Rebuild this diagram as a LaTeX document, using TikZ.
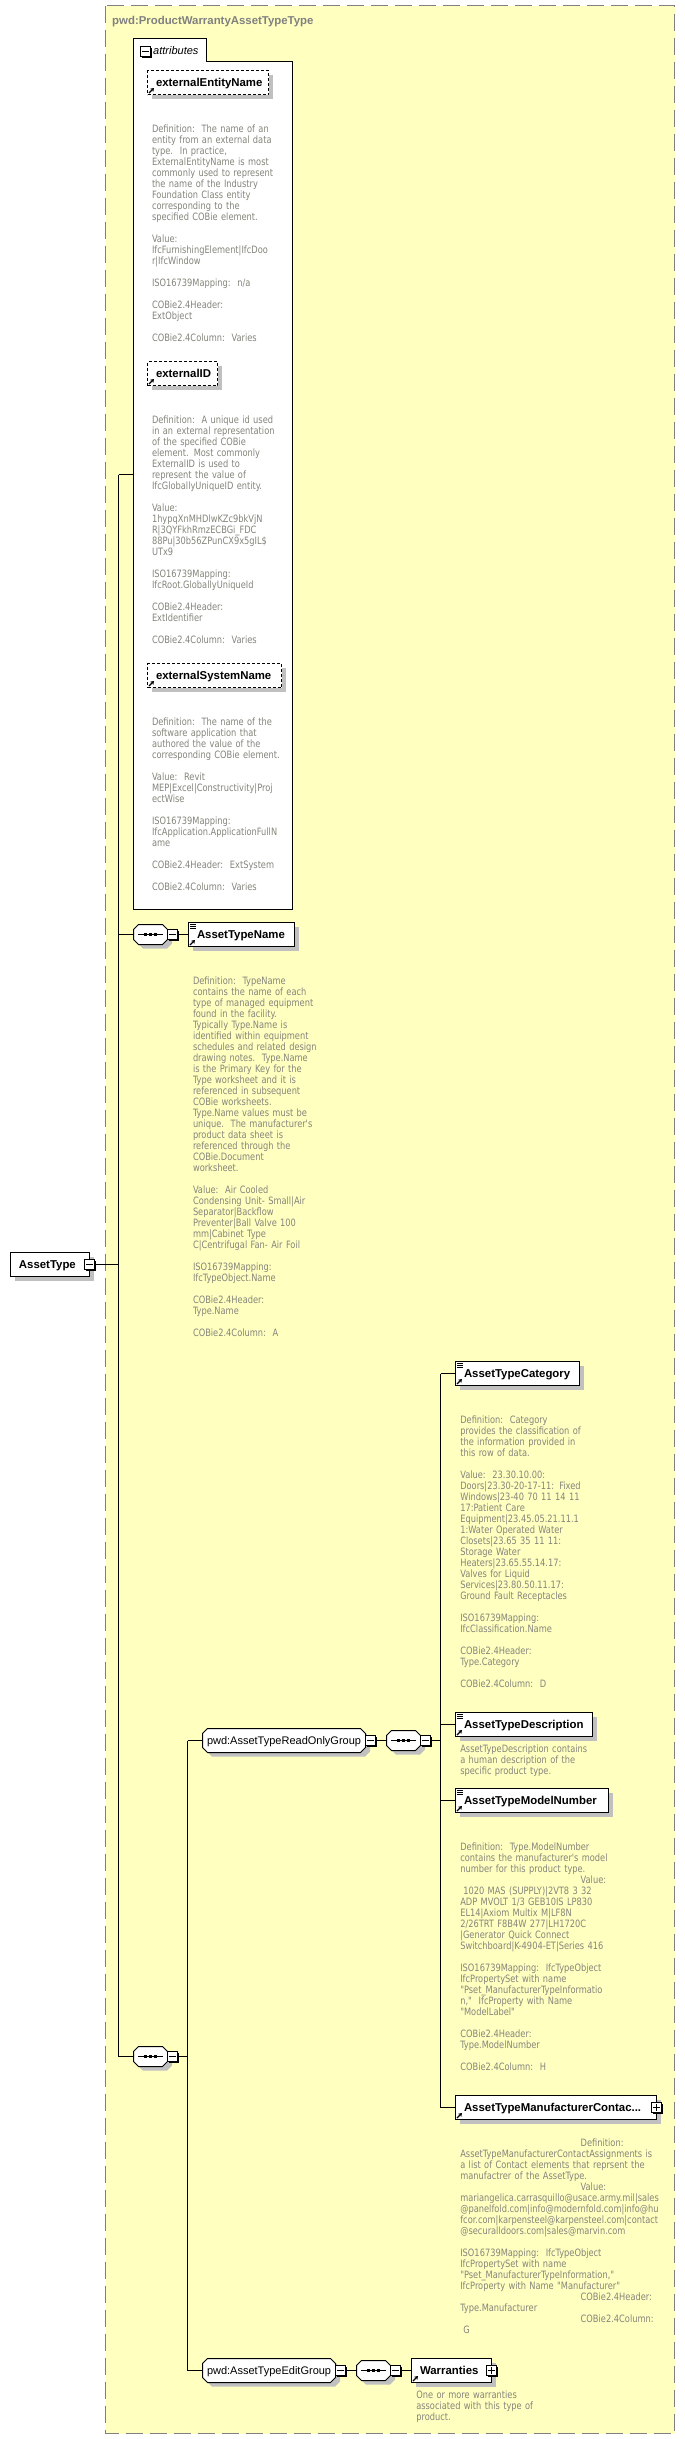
\documentclass[tikz,border=0pt]{standalone}
\usepackage{fontspec}
\setmainfont{Liberation Sans}
\newfontfamily\docfont[FakeStretch=0.91]{DejaVu Sans Condensed}
\usetikzlibrary{shadows,arrows.meta}
\definecolor{paneyellow}{HTML}{FFFFC0}
\definecolor{paneline}{HTML}{808080}
\definecolor{shadowgray}{HTML}{C0C0C0}
\definecolor{doctext}{HTML}{85857C}
\tikzset{
  x=1pt,y=-1pt,
  conn/.style={draw=black,line width=1pt},
  shade4/.style={general shadow={shadow xshift=4pt,shadow yshift=-4pt,fill=shadowgray}},
  boxlabel/.style={text height=11pt,text depth=3pt,align=left,text=black},
  elembox/.style={rectangle,draw=black,fill=white,line width=1pt,outer sep=0pt,anchor=west,
    minimum height=24pt,inner xsep=8.5pt,inner ysep=0pt,shade4,boxlabel,
    font=\fontsize{11.4}{13}\selectfont\bfseries},
  attrbox/.style={elembox,dash pattern=on 3pt off 2pt},
  groupbox/.style={rectangle,outer sep=0pt,anchor=west,minimum height=24pt,
    inner xsep=4.5pt,inner ysep=0pt,boxlabel,font=\fontsize{11}{13}\selectfont},
  seqbox/.style={rectangle,outer sep=0pt,anchor=west,minimum width=34pt,minimum height=20pt,inner sep=0pt},
  octfill/.style={draw=black,fill=white,line width=1pt,line join=miter},
  expbox/.style={rectangle,draw=black,fill=white,line width=1pt,outer sep=0pt,
    minimum width=10pt,minimum height=10pt,inner sep=0pt,
    general shadow={shadow xshift=1.2pt,shadow yshift=-1.2pt,fill=black}},
  docstyle/.style={anchor=north west,inner sep=0pt,outer sep=0pt,align=left,text=doctext,text width=300pt,
    font=\docfont\fontsize{10.1}{11}\selectfont},
  pane/.style={draw=paneline,fill=paneyellow,line width=1pt,dash pattern=on 17pt off 7pt},
}
\newcommand\gap{\\[11pt]}
\newcommand\docnode[4]{\node[docstyle] (#1) at (#2,#3) {\rule{0pt}{9pt}#4};}
\newcommand\elemnode[6][elembox]{\node[#1,text width=#5pt-17pt,minimum width=#5pt] (#2) at (#3,#4) {#6};}
\newcommand\markarrow[1]{\draw[line width=1.3pt,-{Stealth[length=3.5pt,width=4.5pt]}] ([shift={(1.5,-1.5)}]#1.south west) -- ([shift={(6.5,-6.5)}]#1.south west);}
\newcommand\marklines[1]{\foreach \k in {1.5,3.5,5.5}{\draw[line width=.9pt] ([shift={(1.5,\k)}]#1.north west) -- ([shift={(7,\k)}]#1.north west);}}
% octagon outline: x, y centre, width, half height, shadow dx, dy
\newcommand\octpath[4]{(#1+5,#2-#4) -- (#1+#3-5,#2-#4) -- (#1+#3,#2-#4+5) -- (#1+#3,#2+#4-5) -- (#1+#3-5,#2+#4) -- (#1+5,#2+#4) -- (#1,#2+#4-5) -- (#1,#2-#4+5) -- cycle}
\newcommand\octagon[4]{\fill[shadowgray] \octpath{#1+4.5}{#2+4}{#3}{#4};\path[octfill] \octpath{#1}{#2}{#3}{#4};}
\newcommand\seqnode[3]{\octagon{#2}{#3}{34}{10}\node[seqbox] (#1) at (#2,#3) {};
  \draw[line width=1pt] ([xshift=-12.5pt]#1.center) -- ([xshift=12.5pt]#1.center);
  \foreach \k in {-5,0,5}{\fill ([shift={(\k-1.3,-1.3)}]#1.center) rectangle ([shift={(\k+1.3,1.3)}]#1.center);}}
\newcommand\groupnode[5]{\octagon{#2}{#3}{#4}{12}\node[groupbox,text width=#4pt-9pt,minimum width=#4pt] (#1) at (#2,#3) {#5};}
\newcommand\minusmark[1]{\draw[line width=1pt] ([xshift=-3.5pt]#1.center) -- ([xshift=3.5pt]#1.center);}
\newcommand\plusmark[1]{\minusmark{#1}\draw[line width=1pt] ([yshift=-3.5pt]#1.center) -- ([yshift=3.5pt]#1.center);}
\newcommand\expafter[2]{\node[expbox,anchor=west] (#1) at (#2.east) {};\minusmark{#1}}
\begin{document}
\begin{tikzpicture}
\useasboundingbox (0,0) rectangle (685,2439);
\fill[white] (0,0) rectangle (685,2439);
\draw[pane] (105.5,5.5) rectangle (674.5,2433.5);
\node[anchor=base west,inner sep=0pt,text=paneline,font=\fontsize{11.4}{13}\selectfont\bfseries] (panetitle) at (112,24) {pwd:ProductWarrantyAssetTypeType};

% attributes container
\draw[fill=white,line width=1pt] (133.5,38.5) -- (206.5,38.5) -- (206.5,61.5) -- (292.5,61.5) -- (292.5,909.5) -- (133.5,909.5) -- cycle;
\coordinate (attrsw) at (133.5,474.5);
\node[expbox,anchor=north west] (attrexp) at (140.5,46.5) {};\minusmark{attrexp}
\node[anchor=base west,inner sep=0pt,font=\fontsize{11}{13}\selectfont\itshape] (attrlabel) at (153,54.5) {attributes};

\elemnode[attrbox]{extEntity}{147.5}{82.5}{121}{externalEntityName}\markarrow{extEntity}
\docnode{docEntity}{152}{123.7}{Definition:~~The name of an\\entity from an external data\\type.~~In practice,\\ExternalEntityName is most\\commonly used to represent\\the name of the Industry\\Foundation Class entity\\corresponding to the\\specified COBie element.\gap Value:\\IfcFurnishingElement|IfcDoo\\r|IfcWindow\gap ISO16739Mapping:~~n/a\gap COBie2.4Header:\\ExtObject\gap COBie2.4Column:~~Varies}

\elemnode[attrbox]{extID}{147.5}{373.5}{70}{externalID}\markarrow{extID}
\docnode{docID}{152}{414.7}{Definition:~~A unique id used\\in an external representation\\of the specified COBie\\element. Most commonly\\ExternalID is used to\\represent the value of\\IfcGloballyUniqueID entity.\gap Value:\\1hypqXnMHDlwKZc9bkVjN\\R|3QYFkhRmzECBGi\_FDC\\88Pu|30b56ZPunCX9x5gIL\$\\UTx9\gap ISO16739Mapping:\\IfcRoot.GloballyUniqueId\gap COBie2.4Header:\\ExtIdentifier\gap COBie2.4Column:~~Varies}

\elemnode[attrbox]{extSystem}{147.5}{675.5}{134}{externalSystemName}\markarrow{extSystem}
\docnode{docSystem}{152}{716.7}{Definition:~~The name of the\\software application that\\authored the value of the\\corresponding COBie element.\gap Value:~~Revit\\MEP|Excel|Constructivity|Proj\\ectWise\gap ISO16739Mapping:\\IfcApplication.ApplicationFullN\\ame\gap COBie2.4Header:~~ExtSystem\gap COBie2.4Column:~~Varies}

% root
\elemnode{root}{10.5}{1264.5}{79}{AssetType}
\node[expbox] (rootexp) at (root.east) {};\minusmark{rootexp}

% first sequence
\seqnode{seqA}{133.5}{934.5}
\expafter{seqAexp}{seqA}
\elemnode{typeName}{188.5}{934.5}{106}{AssetTypeName}\markarrow{typeName}\marklines{typeName}
\docnode{docName}{193}{975.7}{Definition:~~TypeName\\contains the name of each\\type of managed equipment\\found in the facility.\\Typically Type.Name is\\identified within equipment\\schedules and related design\\drawing notes.~~Type.Name\\is the Primary Key for the\\Type worksheet and it is\\referenced in subsequent\\COBie worksheets.\\Type.Name values must be\\unique.~~The manufacturer's\\product data sheet is\\referenced through the\\COBie.Document\\worksheet.\gap Value:~~Air Cooled\\Condensing Unit- Small|Air\\Separator|Backflow\\Preventer|Ball Valve 100\\mm|Cabinet Type\\C|Centrifugal Fan- Air Foil\gap ISO16739Mapping:\\IfcTypeObject.Name\gap COBie2.4Header:\\Type.Name\gap COBie2.4Column:~~A}

% second sequence
\seqnode{seqB}{133.5}{2056.5}
\expafter{seqBexp}{seqB}

% read only group
\groupnode{roGroup}{202.5}{1740.5}{163}{pwd:AssetTypeReadOnlyGroup}
\expafter{roExp}{roGroup}
\seqnode{seqC}{386.5}{1740.5}
\expafter{seqCexp}{seqC}
\elemnode{category}{455.5}{1373.5}{124}{AssetTypeCategory}\markarrow{category}\marklines{category}
\docnode{docCategory}{460.3}{1414.7}{Definition:~~Category\\provides the classification of\\the information provided in\\this row of data.\gap Value:~~23.30.10.00:\\Doors|23.30-20-17-11: Fixed\\Windows|23-40 70 11 14 11\\17:Patient Care\\Equipment|23.45.05.21.11.1\\1:Water Operated Water\\Closets|23.65 35 11 11:\\Storage Water\\Heaters|23.65.55.14.17:\\Valves for Liquid\\Services|23.80.50.11.17:\\Ground Fault Receptacles\gap ISO16739Mapping:\\IfcClassification.Name\gap COBie2.4Header:\\Type.Category\gap COBie2.4Column:~~D}
\elemnode{description}{455.5}{1724.5}{137}{AssetTypeDescription}\markarrow{description}\marklines{description}
\docnode{docDescription}{460.3}{1743.7}{AssetTypeDescription contains\\a human description of the\\specific product type.}
\elemnode{model}{455.5}{1800.5}{153}{AssetTypeModelNumber}\markarrow{model}\marklines{model}
\docnode{docModel}{460.3}{1841.7}{Definition:~~Type.ModelNumber\\contains the manufacturer's model\\number for this product type.\\\hspace*{120.4pt}Value:\\\hspace*{3pt}1020 MAS (SUPPLY)|2VT8 3 32\\ADP MVOLT 1/3 GEB10IS LP830\\EL14|Axiom Multix M|LF8N\\2/26TRT F8B4W 277|LH1720C\\|Generator Quick Connect\\Switchboard|K-4904-ET|Series 416\gap ISO16739Mapping:~~IfcTypeObject\\IfcPropertySet with name\\"Pset\_ManufacturerTypeInformatio\\n,"~~IfcProperty with Name\\"ModelLabel"\gap COBie2.4Header:\\Type.ModelNumber\gap COBie2.4Column:~~H}
\elemnode{maker}{455.5}{2107.5}{201}{AssetTypeManufacturerContac...}\markarrow{maker}
\node[expbox] (makerexp) at (maker.east) {};\plusmark{makerexp}
\docnode{docMaker}{460.3}{2137.7}{\hspace*{120.4pt}Definition:\\AssetTypeManufacturerContactAssignments is\\a list of Contact elements that reprsent the\\manufactrer of the AssetType.\\\hspace*{120.4pt}Value:\\mariangelica.carrasquillo@usace.army.mil|sales\\@panelfold.com|info@modernfold.com|info@hu\\fcor.com|karpensteel@karpensteel.com|contact\\@securalldoors.com|sales@marvin.com\gap ISO16739Mapping:~~IfcTypeObject\\IfcPropertySet with name\\"Pset\_ManufacturerTypeInformation,"\\IfcProperty with Name "Manufacturer"\\\hspace*{120.4pt}COBie2.4Header:\\Type.Manufacturer\\\hspace*{120.4pt}COBie2.4Column:\\\hspace*{3pt}G}

% edit group
\groupnode{editGroup}{202.5}{2370.5}{133}{pwd:AssetTypeEditGroup}
\expafter{editExp}{editGroup}
\seqnode{seqD}{356.5}{2370.5}
\expafter{seqDexp}{seqD}
\elemnode{warranties}{411.5}{2370.5}{80}{Warranties}\markarrow{warranties}
\node[expbox] (warrexp) at (warranties.east) {};\plusmark{warrexp}
\docnode{docWarranties}{416.3}{2389.7}{One or more warranties\\associated with this type of\\product.}

% buses
\coordinate (busA) at (118.5,1264.5);
\coordinate (busB) at (187.5,2056.5);
\coordinate (busC) at (440.5,1740.5);

% connectors
\draw[conn] (attrsw -| busA) -- (seqB.west -| busA);
\draw[conn] (rootexp.east) -- (busA);
\draw[conn] (attrsw -| busA) -- (attrsw);
\draw[conn] (seqA.west -| busA) -- (seqA.west);
\draw[conn] (seqB.west -| busA) -- (seqB.west);
\draw[conn] (seqAexp.east) -- (typeName.west);
\draw[conn] (seqBexp.east) -- (busB);
\draw[conn] (roGroup.west -| busB) -- (editGroup.west -| busB);
\draw[conn] (roGroup.west -| busB) -- (roGroup.west);
\draw[conn] (editGroup.west -| busB) -- (editGroup.west);
\draw[conn] (roExp.east) -- (seqC.west);
\draw[conn] (editExp.east) -- (seqD.west);
\draw[conn] (seqDexp.east) -- (warranties.west);
\draw[conn] (seqCexp.east) -- (busC);
\draw[conn] (category.west -| busC) -- (maker.west -| busC);
\draw[conn] (category.west -| busC) -- (category.west);
\draw[conn] (description.west -| busC) -- (description.west);
\draw[conn] (model.west -| busC) -- (model.west);
\draw[conn] (maker.west -| busC) -- (maker.west);
\end{tikzpicture}
\end{document}
